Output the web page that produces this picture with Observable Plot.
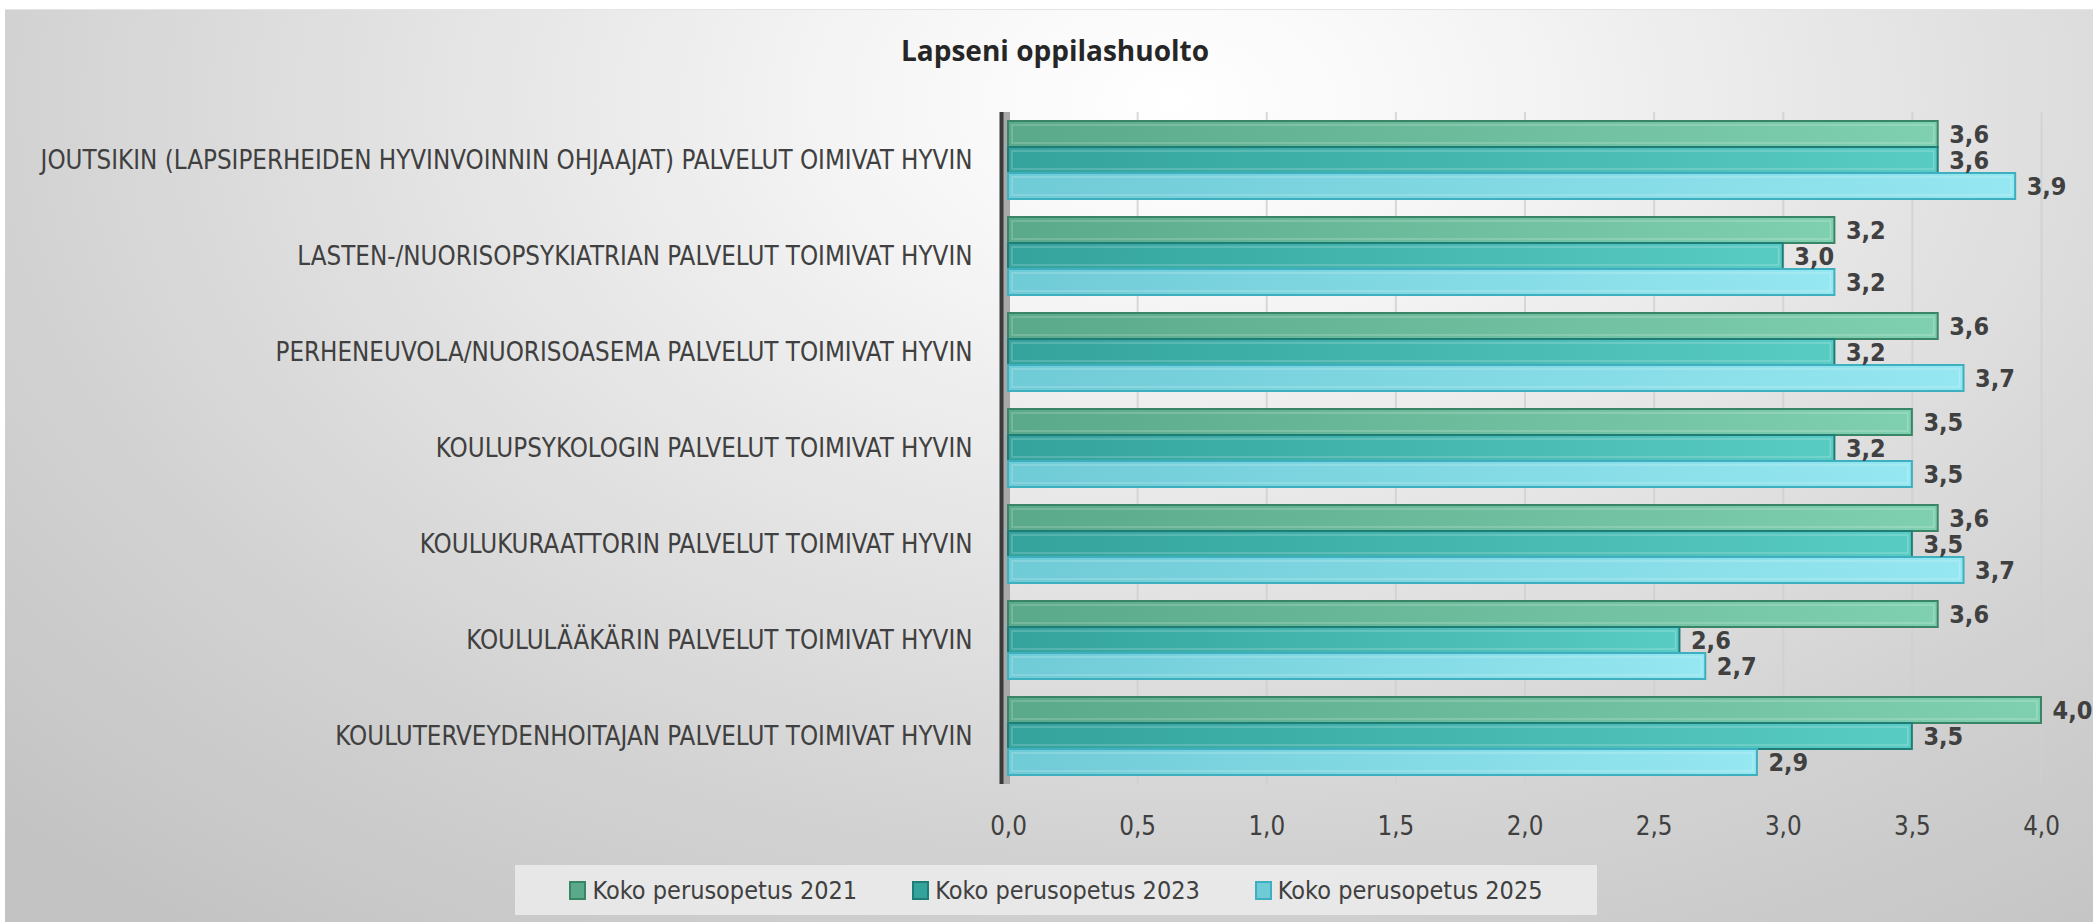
<!DOCTYPE html>
<html>
<head>
<meta charset="utf-8">
<script src="https://cdn.jsdelivr.net/npm/d3@7"></script>
<script src="https://cdn.jsdelivr.net/npm/@observablehq/plot@0.6"></script>
<style>
  html, body { margin: 0; padding: 0; background: #ffffff; }
  #wrap { position: relative; width: 2093px; height: 922px; overflow: hidden; background: #ffffff; }
  #bg { position: absolute; left: 5px; top: 9px; right: 0; bottom: 0;
        border-top: 1px solid #e4e4e4;
        background: radial-gradient(ellipse 78% 115% at 56% 10%, #ffffff 0%, #f6f6f6 18%, #e4e4e4 45%, #d2d2d2 72%, #c3c3c3 100%); }
  #title { position: absolute; top: 31px; left: 1055px; transform: translateX(-50%);
           font-family: "Open Sans", "Liberation Sans", sans-serif; font-weight: 700; font-size: 28px; color: #262626; white-space: nowrap; }
  #chart { position: absolute; left: 0; top: 0; }
  #legend { position: absolute; left: 515px; top: 865px; width: 1082px; height: 50px;
            background: rgba(240,240,240,0.75); display: flex; align-items: center; justify-content: center; gap: 55px;
            font-family: "Liberation Sans Narrow", "DejaVu Sans Condensed", sans-serif; font-size: 25px; color: #404040; }
  .item { display: flex; align-items: center; white-space: nowrap; }
  .sw { width: 13px; height: 15px; margin-right: 6px; border: 2px solid; }
</style>
</head>
<body>
<div id="wrap">
  <div id="bg"></div>
  <div id="title">Lapseni oppilashuolto</div>
  <div id="chart"></div>
  <div id="legend"></div>
</div>
<script>
const categories = [
  "JOUTSIKIN (LAPSIPERHEIDEN HYVINVOINNIN OHJAAJAT) PALVELUT OIMIVAT HYVIN",
  "LASTEN-/NUORISOPSYKIATRIAN PALVELUT TOIMIVAT HYVIN",
  "PERHENEUVOLA/NUORISOASEMA PALVELUT TOIMIVAT HYVIN",
  "KOULUPSYKOLOGIN PALVELUT TOIMIVAT HYVIN",
  "KOULUKURAATTORIN PALVELUT TOIMIVAT HYVIN",
  "KOULULÄÄKÄRIN PALVELUT TOIMIVAT HYVIN",
  "KOULUTERVEYDENHOITAJAN PALVELUT TOIMIVAT HYVIN"
];
const series = ["Koko perusopetus 2021", "Koko perusopetus 2023", "Koko perusopetus 2025"];
const values2021 = [3.6, 3.2, 3.6, 3.5, 3.6, 3.6, 4.0];
const values2023 = [3.6, 3.0, 3.2, 3.2, 3.5, 2.6, 3.5];
const values2025 = [3.9, 3.2, 3.7, 3.5, 3.7, 2.7, 2.9];
const xTicks = [0, 0.5, 1, 1.5, 2, 2.5, 3, 3.5, 4];

const baseColors = ["#5aa98a", "#33a39b", "#6fcbd6"];
const lightColors = ["#7fd0b0", "#58cbc3", "#95e7f1"];
const edgeColors = ["#3b8567", "#1f7d77", "#3eafbe"];

const seriesValues = [values2021, values2023, values2025];
const rows = [];
categories.forEach((c, i) => {
  series.forEach((s, j) => rows.push({category: c, series: s, value: seriesValues[j][i]}));
});

const fmt = v => v.toFixed(1).replace(".", ",");
const FONT = "'Liberation Sans Narrow', 'DejaVu Sans Condensed', sans-serif";

const plot = Plot.plot({
  width: 2093,
  height: 850,
  marginTop: 112,
  marginBottom: 66,
  marginLeft: 1008,
  marginRight: 52,
  style: {background: "transparent", fontFamily: FONT, fontSize: "25.7px", color: "#404040"},
  facet: {data: rows, y: "category"},
  fy: {domain: categories, paddingInner: 0.17, paddingOuter: 0.085, axis: "left", label: null, tickSize: 0, tickPadding: 36},
  y: {domain: series, padding: 0, axis: null},
  x: {domain: [0, 4], ticks: xTicks, tickFormat: fmt, tickSize: 0, tickPadding: 40, label: null},
  color: {domain: series, range: ["url(#grad0)", "url(#grad1)", "url(#grad2)"]},
  marks: [
    Plot.ruleX(xTicks.slice(1), {stroke: "#cfcfcf", strokeWidth: 2, strokeOpacity: 0.8, insetTop: -8, insetBottom: -8}),
    Plot.ruleX([0], {stroke: "#a8a8a8", strokeWidth: 7, dx: -2, insetTop: -8, insetBottom: -8}),
    Plot.ruleX([0], {stroke: "#3a3a3a", strokeWidth: 4, dx: -7, insetTop: -8, insetBottom: -8}),
    Plot.barX(rows, {x: "value", y: "series", fill: "series",
      stroke: d => edgeColors[series.indexOf(d.series)], strokeWidth: 2}),
    Plot.barX(rows, {x: "value", y: "series", fill: "none", stroke: "white", strokeOpacity: 0.22, strokeWidth: 1.5, inset: 4}),
    Plot.text(rows, {x: "value", y: "series", text: d => fmt(d.value), dx: 11, textAnchor: "start",
      fontWeight: "bold", fontSize: 25, fill: "#404040"})
  ]
});

// gradient definitions for the bar fills
const svg = d3.select(plot.tagName.toLowerCase() === "svg" ? plot : plot.querySelector("svg"));
const defs = svg.insert("defs", ":first-child");
baseColors.forEach((c, i) => {
  const g = defs.append("linearGradient").attr("id", "grad" + i)
    .attr("x1", 0).attr("x2", 1).attr("y1", 0).attr("y2", 0);
  g.append("stop").attr("offset", "0%").attr("stop-color", c);
  g.append("stop").attr("offset", "100%").attr("stop-color", lightColors[i]);
});

document.getElementById("chart").appendChild(plot);

// legend
const legend = d3.select("#legend");
series.forEach((s, i) => {
  const it = legend.append("div").attr("class", "item");
  it.append("div").attr("class", "sw").style("background", baseColors[i]).style("border-color", edgeColors[i]);
  it.append("span").text(s);
});
</script>
</body>
</html>
